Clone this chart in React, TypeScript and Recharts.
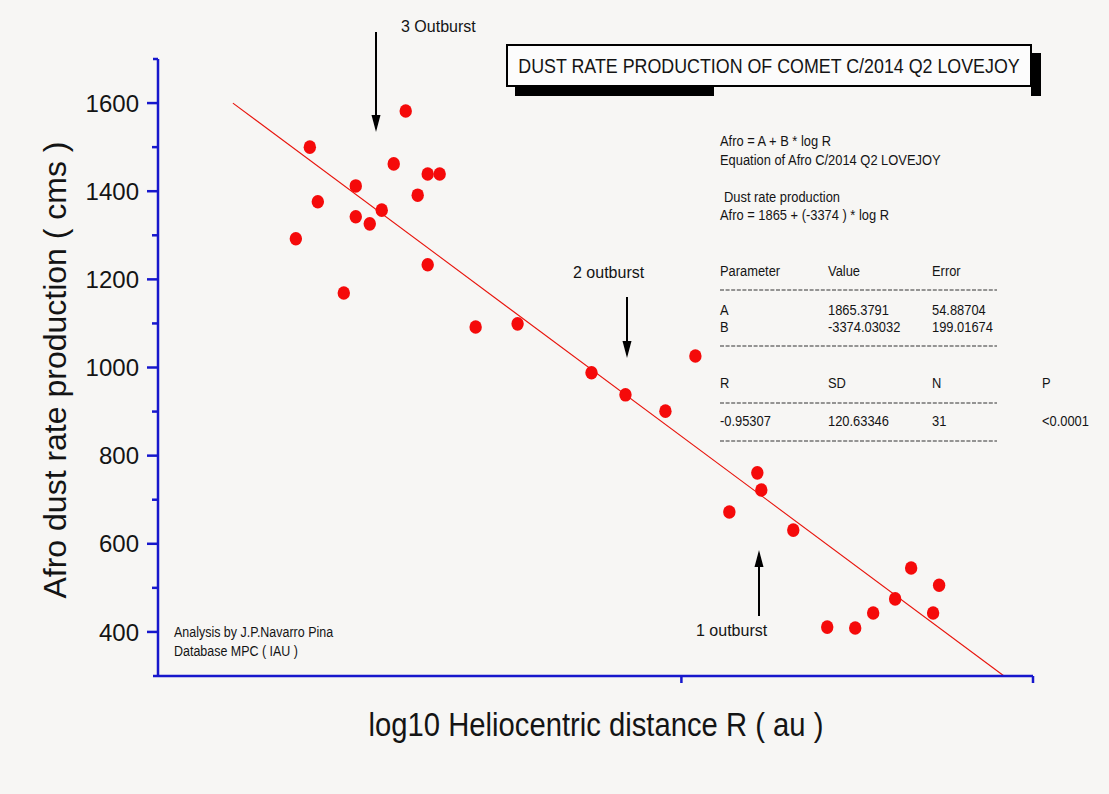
import React from 'react';
import { ScatterChart, Scatter, XAxis, YAxis, ReferenceLine } from 'recharts';

const logR = [
  0.107, 0.114, 0.118, 0.131, 0.137, 0.137, 0.144, 0.150, 0.156, 0.162, 0.168,
  0.173, 0.173, 0.179, 0.197, 0.218, 0.255, 0.272, 0.292, 0.307, 0.324, 0.338,
  0.340, 0.356, 0.373, 0.387, 0.396, 0.407, 0.415, 0.426, 0.429,
];
const afro = [
  1292, 1500, 1376, 1169, 1412, 1342, 1326, 1357, 1462, 1582, 1391,
  1439, 1233, 1439, 1092, 1099, 988, 938, 901, 1026, 672, 761,
  722, 631, 411, 409, 443, 475, 545, 443, 506,
];

// linear fit end points
const fitX = [0.0755, 0.4615];
const fitY = [1600, 300];

const yTicks = [300, 400, 500, 600, 700, 800, 900, 1000, 1100, 1200, 1300, 1400, 1500, 1600, 1700];
const yLabelled = [400, 600, 800, 1000, 1200, 1400, 1600];
const xTicks = [0.3, 0.476];

const tableHead = ['Parameter', 'Value', 'Error'];
const tableA = ['A', '1865.3791', '54.88704'];
const tableB = ['B', '-3374.03032', '199.01674'];
const tableStatsHead = ['R', 'SD', 'N', 'P'];
const tableStats = ['-0.95307', '120.63346', '31', '<0.0001'];

const data = logR.map((x, i) => ({ x, y: afro[i] }));

const BLUE = '#1717cc';
const INK = '#141414';
const FONT = '"Liberation Sans", Arial, sans-serif';

const YTick = (props: any) => {
  const { x, y, payload } = props;
  const v = payload.value;
  const labelled = yLabelled.includes(v);
  const len = labelled ? 11 : v === 300 || v === 1700 ? 5 : 6;
  return (
    <g>
      <line x1={x - len} x2={x} y1={y} y2={y} stroke={BLUE} strokeWidth={2.5} />
      {labelled && (
        <text x={x - 19} y={y} dy="0.36em" textAnchor="end" fontSize={24} fontFamily={FONT} fill={INK}>
          {v}
        </text>
      )}
    </g>
  );
};

const XTick = (props: any) => {
  const { x, y } = props;
  return <line x1={x} x2={x} y1={y} y2={y + 7} stroke={BLUE} strokeWidth={2.5} />;
};

const Dot = (props: any) => <ellipse cx={props.cx} cy={props.cy} rx={6.2} ry={6.8} fill="#f50a0a" />;

// condensed text (the original uses a narrow face)
const CText = ({ x, y, size = 15, sx = 0.86, anchor = 'start', children }: any) => (
  <text
    transform={`translate(${x},${y}) scale(${sx},1)`}
    fontSize={size}
    fontFamily={FONT}
    fill={INK}
    textAnchor={anchor}
  >
    {children}
  </text>
);

const Arrow = ({ x, y1, y2 }: any) => {
  const dir = y2 > y1 ? 1 : -1;
  return (
    <g>
      <line x1={x} x2={x} y1={y1} y2={y2 - dir * 12} stroke="#000" strokeWidth={2} />
      <polygon points={`${x - 4.5},${y2 - dir * 17} ${x + 4.5},${y2 - dir * 17} ${x},${y2}`} fill="#000" />
    </g>
  );
};

const cols = [720, 828, 932, 1042];
const Dashes = ({ y }: any) => (
  <line x1={720} x2={997} y1={y} y2={y} stroke="#333" strokeWidth={1} strokeDasharray="4 1.6" />
);

export default function App() {
  return (
    <div style={{ position: 'absolute', left: 0, top: 0, width: 1109, height: 794, background: '#f7f6f4' }}>
      <ScatterChart width={1109} height={794} margin={{ top: 59, right: 76, bottom: 88, left: 98 }}>
        <XAxis
          type="number"
          dataKey="x"
          domain={[0.038, 0.476]}
          ticks={xTicks}
          interval={0}
          height={30}
          tickSize={0}
          tickMargin={0}
          tickLine={false}
          tick={<XTick />}
          axisLine={{ stroke: BLUE, strokeWidth: 2.5 }}
          allowDataOverflow
        />
        <YAxis
          type="number"
          dataKey="y"
          domain={[300, 1700]}
          ticks={yTicks}
          interval={0}
          width={60}
          tickSize={0}
          tickMargin={0}
          tickLine={false}
          tick={<YTick />}
          axisLine={{ stroke: BLUE, strokeWidth: 2.5 }}
          allowDataOverflow
        />
        <ReferenceLine
          segment={[
            { x: fitX[0], y: fitY[0] },
            { x: fitX[1], y: fitY[1] },
          ]}
          stroke="#e8140c"
          strokeWidth={1.1}
          ifOverflow="visible"
        />
        <Scatter data={data} shape={<Dot />} isAnimationActive={false} />
      </ScatterChart>

      <svg
        width={1109}
        height={794}
        style={{ position: 'absolute', left: 0, top: 0, pointerEvents: 'none' }}
      >
        {/* axis titles */}
        <text
          transform="translate(66,370) rotate(-90)"
          textAnchor="middle"
          fontSize={32}
          fontFamily={FONT}
          fill={INK}
        >
          Afro dust rate production ( cms )
        </text>
        <CText x={596} y={736} size={34} sx={0.86} anchor="middle">
          log10 Heliocentric distance R ( au )
        </CText>

        {/* title box */}
        <rect x={1031} y={53} width={10} height={43} fill="#000" />
        <rect x={515} y={86} width={199} height={10} fill="#000" />
        <rect x={507} y={45} width={524} height={41} fill="#fcfcfc" stroke="#000" strokeWidth={2} />
        <CText x={769} y={73} size={21} sx={0.85} anchor="middle">
          DUST RATE PRODUCTION OF COMET C/2014 Q2 LOVEJOY
        </CText>

        {/* equation */}
        <CText x={720} y={146}>Afro = A + B * log R</CText>
        <CText x={720} y={165}>Equation of Afro C/2014 Q2 LOVEJOY</CText>
        <CText x={724} y={202}>Dust rate production</CText>
        <CText x={720} y={220}>Afro = 1865 + (-3374 ) * log R</CText>

        {/* fit table */}
        {tableHead.map((t, i) => (
          <CText key={'h' + i} x={cols[i]} y={276}>{t}</CText>
        ))}
        <Dashes y={290} />
        {tableA.map((t, i) => (
          <CText key={'a' + i} x={cols[i]} y={315}>{t}</CText>
        ))}
        {tableB.map((t, i) => (
          <CText key={'b' + i} x={cols[i]} y={332}>{t}</CText>
        ))}
        <Dashes y={346} />
        {tableStatsHead.map((t, i) => (
          <CText key={'s' + i} x={cols[i]} y={388}>{t}</CText>
        ))}
        <Dashes y={403} />
        {tableStats.map((t, i) => (
          <CText key={'v' + i} x={cols[i]} y={426}>{t}</CText>
        ))}
        <Dashes y={441} />

        {/* credits */}
        <CText x={174} y={637} size={14.5}>Analysis by J.P.Navarro Pina</CText>
        <CText x={174} y={656} size={14.5}>Database MPC ( IAU )</CText>

        {/* outburst markers */}
        <text x={401} y={32} fontSize={16} fontFamily={FONT} fill={INK}>3 Outburst</text>
        <Arrow x={376} y1={32} y2={132} />
        <text x={573} y={278} fontSize={16} fontFamily={FONT} fill={INK}>2 outburst</text>
        <Arrow x={627} y1={297} y2={358} />
        <text x={696} y={636} fontSize={16} fontFamily={FONT} fill={INK}>1 outburst</text>
        <Arrow x={759} y1={616} y2={550} />
      </svg>
    </div>
  );
}
